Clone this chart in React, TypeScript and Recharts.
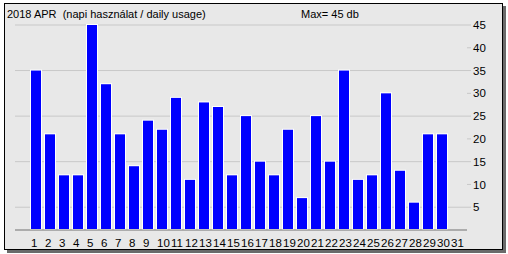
import { BarChart, Bar, XAxis, YAxis, CartesianGrid } from 'recharts'

// April 2018 daily usage (db)
const days = [
  '1', '2', '3', '4', '5', '6', '7', '8', '9', '10',
  '11', '12', '13', '14', '15', '16', '17', '18', '19', '20',
  '21', '22', '23', '24', '25', '26', '27', '28', '29', '30', '31',
]
const usage = [
  35, 21, 12, 12, 45, 32, 21, 14, 24, 22,
  29, 11, 28, 27, 12, 25, 15, 12, 22, 7,
  25, 15, 35, 11, 12, 30, 13, 6, 21, 21, 0,
]
const yTicks = [5, 10, 15, 20, 25, 30, 35, 40, 45]
const title = '2018 APR  (napi használat / daily usage)'
const maxLabel = 'Max= 45 db'

const data = days.map((day, i) => ({ day, value: usage[i] }))

const FONT = '"Liberation Sans", Arial, sans-serif'

// white outline around a pure blue bar
function OutlinedBar(props: any) {
  const { x, y, width, height } = props
  if (!height || height <= 0) return null
  return (
    <g>
      <rect x={x} y={y - 1} width={width} height={height + 1} fill="#ffffff" />
      <rect x={x + 1} y={y} width={width - 2} height={height - 1} fill="#0000ff" />
    </g>
  )
}

function DayTick(props: any) {
  const { x, y, payload } = props
  return (
    <text x={x - 5} y={y} dy={9} textAnchor="start" fontSize={11.5} fontFamily={FONT} fill="#000">
      {payload.value}
    </text>
  )
}

const labelStyle = {
  position: 'absolute' as const,
  top: 7,
  fontFamily: FONT,
  fontSize: 11,
  lineHeight: '14px',
  whiteSpace: 'pre' as const,
}

export default function App() {
  return (
    <div style={{ position: 'absolute', left: 0, top: 0, width: 508, height: 254, background: '#fff' }}>
      <div
        style={{
          position: 'absolute',
          left: 4,
          top: 3,
          width: 497,
          height: 245,
          border: '1px solid #000',
          background: '#e8e8e8',
          boxShadow: '3px 3px 0 #6a6a6a',
        }}
      />
      <div style={{ position: 'absolute', left: 0, top: 0 }}>
        <BarChart
          width={508}
          height={254}
          data={data}
          margin={{ top: 25, right: 0, left: 15, bottom: 0 }}
          barCategoryGap={0}
        >
          <CartesianGrid vertical={false} stroke="#c8c8c8" />
          <XAxis
            dataKey="day"
            height={24}
            interval={0}
            padding={{ left: 14, right: 4 }}
            axisLine={{ stroke: '#808080' }}
            tickLine={false}
            tick={<DayTick />}
          />
          <YAxis
            orientation="right"
            width={41}
            domain={[0, 45]}
            ticks={yTicks}
            axisLine={false}
            tickSize={4}
            tickLine={{ stroke: '#c8c8c8' }}
            tick={{ fontSize: 11.5, fontFamily: FONT, fill: '#000' }}
          />
          <Bar dataKey="value" barSize={12} shape={<OutlinedBar />} isAnimationActive={false} />
        </BarChart>
      </div>
      <div style={{ ...labelStyle, left: 7 }}>{title}</div>
      <div style={{ ...labelStyle, left: 301 }}>{maxLabel}</div>
    </div>
  )
}
